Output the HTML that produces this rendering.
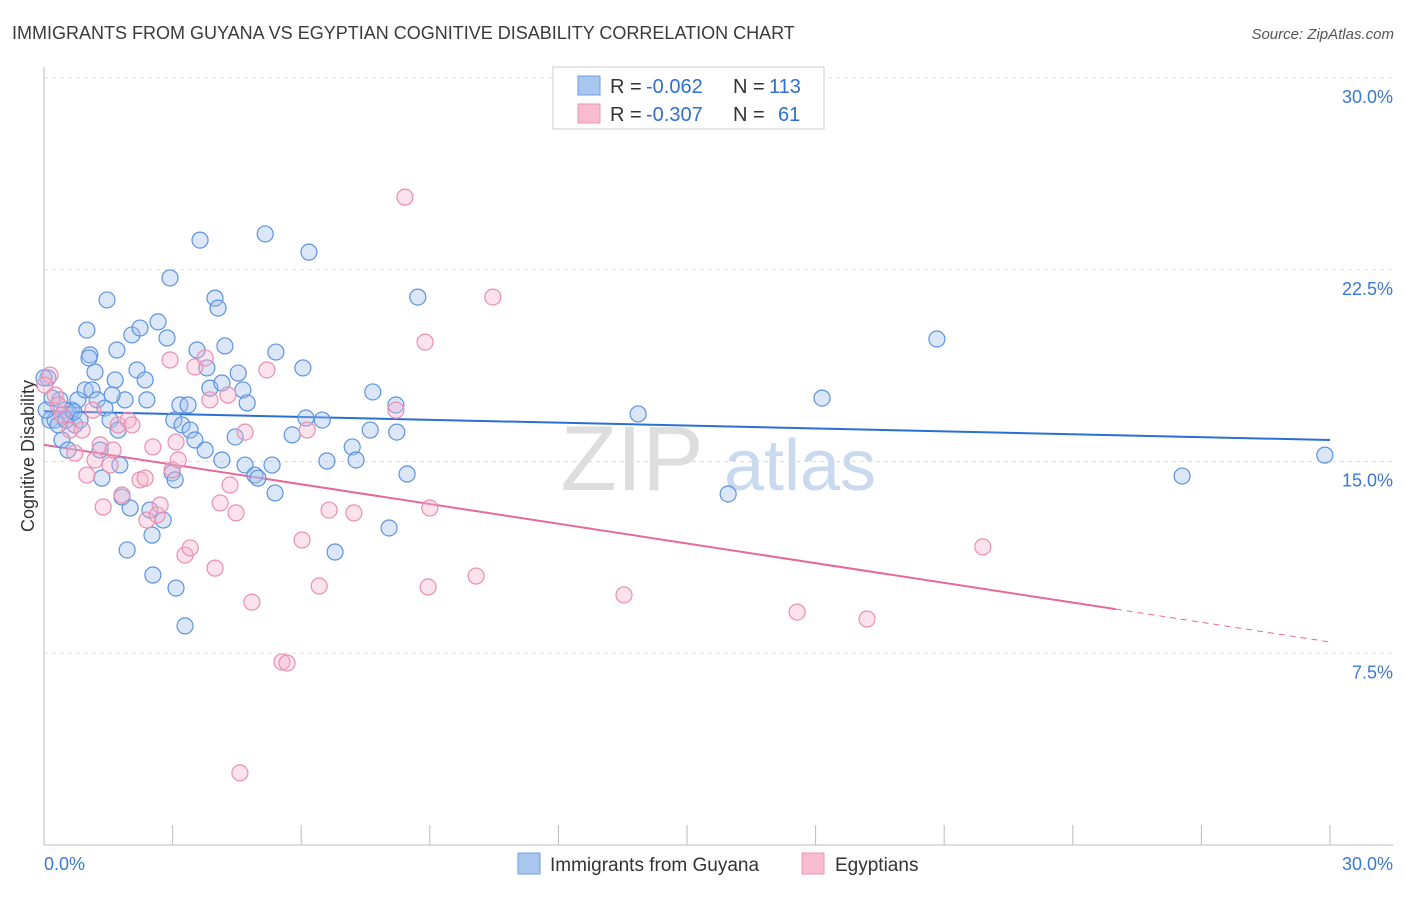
<!DOCTYPE html>
<html><head><meta charset="utf-8"><style>
body{margin:0;background:#fff;font-family:"Liberation Sans",sans-serif;}
svg text{font-family:"Liberation Sans",sans-serif;}
</style></head><body>
<svg id="chart" width="1406" height="892">
<text x="12" y="39" font-size="18" fill="#3a3a3a">IMMIGRANTS FROM GUYANA VS EGYPTIAN COGNITIVE DISABILITY CORRELATION CHART</text>
<text x="1394" y="39" font-size="15" fill="#555" font-style="italic" text-anchor="end">Source: ZipAtlas.com</text>
<text transform="translate(34,456) rotate(-90)" font-size="18" fill="#333" text-anchor="middle">Cognitive Disability</text>
<g><text x="632" y="490" font-size="92" fill="#ddd" font-family="Liberation Serif" text-anchor="middle">ZIP</text><text x="800" y="490" font-size="72" fill="#c9daf0" text-anchor="middle">atlas</text></g>
<g id="grid"></g><g id="lines"></g><g id="pts"></g>
<g>
<rect x="553" y="67" width="271" height="62" fill="#fff" stroke="#ccc"/>
<rect x="578" y="76" width="22" height="19" fill="#a9c6ee" stroke="#6d9ee0"/>
<rect x="578" y="104" width="22" height="19" fill="#f7bcd0" stroke="#ea94b2"/>
<text x="610" y="93" font-size="20" fill="#333">R =</text>
<text x="646" y="93" font-size="20" fill="#2f6fd0">-0.062</text>
<text x="733" y="93" font-size="20" fill="#333">N =</text>
<text x="769" y="93" font-size="20" fill="#2f6fd0">113</text>
<text x="610" y="121" font-size="20" fill="#333">R =</text>
<text x="646" y="121" font-size="20" fill="#2f6fd0">-0.307</text>
<text x="733" y="121" font-size="20" fill="#333">N =</text>
<text x="778" y="121" font-size="20" fill="#2f6fd0">61</text>
</g>
<g>
<rect x="518" y="853" width="22" height="21" fill="#a9c6ee" stroke="#6d9ee0"/>
<text x="550" y="871" font-size="19" fill="#333">Immigrants from Guyana</text>
<rect x="802" y="853" width="22" height="21" fill="#f7bcd0" stroke="#ea94b2"/>
<text x="835" y="871" font-size="19" fill="#333">Egyptians</text>
</g>
</svg>
<script>
const yTicks=[7.5,15,22.5,30];
const yTickLabels=["7.5%","15.0%","22.5%","30.0%"];
const xTickCount=10;
const blueX=[0.09,0.14,0.26,0.37,0.49,0.61,0.65,0.72,0.42,0.56,0.79,0.96,1.00,1.07,1.12,1.19,1.24,1.31,1.35,1.42,1.47,1.54,1.66,1.70,1.73,1.77,1.82,1.89,1.94,2.01,2.05,2.17,2.24,2.36,2.40,2.47,2.52,2.54,2.66,2.78,2.87,2.94,2.99,3.03,3.06,3.08,3.17,3.22,3.29,3.36,3.41,3.52,3.57,3.64,3.76,3.80,3.87,3.99,4.06,4.15,4.15,4.22,4.46,4.53,4.64,4.69,4.74,4.92,4.99,5.16,5.32,5.39,5.41,5.79,6.04,6.11,6.18,6.49,6.60,6.79,7.19,7.28,7.61,7.67,8.05,8.21,8.23,8.47,8.72,13.86,15.96,18.15,20.83,26.55,29.88,0.00,0.05,0.19,0.33,0.51,0.70,0.84,1.59,1.05];
const blueY=[18.27,16.62,16.62,17.41,17.01,16.82,17.01,16.43,15.84,15.45,17.41,17.80,20.14,19.17,17.80,18.50,17.41,15.45,14.35,17.09,21.32,16.62,18.19,19.36,16.23,14.86,13.61,17.41,11.54,13.18,19.95,18.58,20.22,18.19,17.41,13.10,12.12,10.56,20.46,12.71,19.83,22.18,14.55,16.62,14.28,10.05,17.21,16.43,8.57,17.21,16.23,15.84,19.36,23.66,15.45,18.66,17.87,21.39,21.00,18.07,15.06,19.52,15.96,18.46,17.80,14.86,17.29,14.47,14.35,23.90,14.86,13.77,19.28,16.04,18.66,16.70,23.19,16.62,15.02,11.46,15.57,15.06,16.23,17.72,12.40,17.21,16.15,14.51,21.43,16.86,13.73,17.48,19.79,14.43,15.25,18.27,17.01,17.48,16.43,16.62,16.94,16.62,17.60,19.05];
const pinkX=[0.14,0.02,0.26,0.33,0.42,0.61,0.72,0.89,1.00,1.14,1.19,1.31,1.38,1.54,1.61,1.73,1.82,1.96,2.05,2.24,2.36,2.40,2.54,2.64,2.71,2.94,2.99,3.08,3.13,3.29,3.41,3.52,3.76,3.87,3.99,4.11,4.29,4.34,4.48,4.57,4.69,4.85,5.20,5.55,5.67,6.02,6.14,6.42,6.65,7.23,8.21,8.42,8.89,8.96,9.00,10.08,10.47,13.53,17.57,19.20,21.90];
const pinkY=[18.38,17.99,17.60,17.21,16.82,16.23,15.33,16.23,14.47,17.01,15.06,15.65,13.22,14.86,15.45,16.43,13.69,16.62,16.43,14.28,14.35,12.71,15.57,12.91,13.30,18.97,14.67,15.76,15.06,11.34,11.62,18.70,19.05,17.41,10.83,13.38,17.60,14.08,12.99,2.82,16.15,9.50,18.58,7.16,7.12,11.93,16.23,10.13,13.10,12.99,17.01,25.34,19.67,10.09,13.18,10.52,21.43,9.78,9.11,8.84,11.66];
const blueTrend=[16.97,15.84];
const pinkTrend=[15.65,7.94];
const pinkSolidEnd=25;

const NS="http://www.w3.org/2000/svg";
const X0=44,X1=1330,Y0=845,Y1=78;
const sx=v=>X0+(v/30)*(X1-X0);
const sy=v=>Y0-(v/30)*(Y0-Y1);
function mk(tag,attrs,parent){const e=document.createElementNS(NS,tag);for(const k in attrs)e.setAttribute(k,attrs[k]);document.getElementById(parent).appendChild(e);return e;}

let ax=mk('line',{x1:X0,y1:67,x2:X0,y2:Y0,stroke:'#bbb'},'grid');


let bx=mk('line',{x1:X0,y1:Y0,x2:1393,y2:Y0,stroke:'#bbb'},'grid');


yTicks.forEach((t,i)=>{
  let g=mk('line',{x1:X0,y1:sy(t),x2:1393,y2:sy(t),stroke:'#ddd','stroke-dasharray':'4,4'},'grid');
  
  
  let tx=mk('text',{x:1393,y:sy(t)+25,'font-size':18,fill:'#3a78d4','text-anchor':'end'},'grid');
  tx.textContent=yTickLabels[i];
  
  
});
for(let i=0;i<=xTickCount;i++){
  let l=mk('line',{x1:sx(i*3),y1:Y0,x2:sx(i*3),y2:Y0-20,stroke:'#bbb'},'grid');
  
  
}
let xl0=mk('text',{x:44,y:870,'font-size':18,fill:'#3a78d4'},'grid');xl0.textContent='0.0%';


let xl1=mk('text',{x:1393,y:870,'font-size':18,fill:'#3a78d4','text-anchor':'end'},'grid');xl1.textContent='30.0%';



blueX.forEach((x,i)=>{
  let c=mk('circle',{cx:sx(x),cy:sy(blueY[i]),r:8,fill:'rgba(160,192,238,0.38)',stroke:'#5b93e0','stroke-width':1.2},'pts');
  
  
});
pinkX.forEach((x,i)=>{
  let c=mk('circle',{cx:sx(x),cy:sy(pinkY[i]),r:8,fill:'rgba(245,180,204,0.38)',stroke:'#ea8fb0','stroke-width':1.2},'pts');
  
  
});
let bl=mk('line',{x1:sx(0),y1:sy(blueTrend[0]),x2:sx(30),y2:sy(blueTrend[1]),stroke:'#2a6fd6','stroke-width':2},'lines');


const pAt=x=>pinkTrend[0]+(pinkTrend[1]-pinkTrend[0])*x/30;
let pl=mk('line',{x1:sx(0),y1:sy(pinkTrend[0]),x2:sx(pinkSolidEnd),y2:sy(pAt(pinkSolidEnd)),stroke:'#e5699a','stroke-width':2},'lines');


let pd=mk('line',{x1:sx(pinkSolidEnd),y1:sy(pAt(pinkSolidEnd)),x2:sx(30),y2:sy(pinkTrend[1]),stroke:'#e5699a','stroke-width':1,'stroke-dasharray':'6,5'},'lines');


</script>
</body></html>
